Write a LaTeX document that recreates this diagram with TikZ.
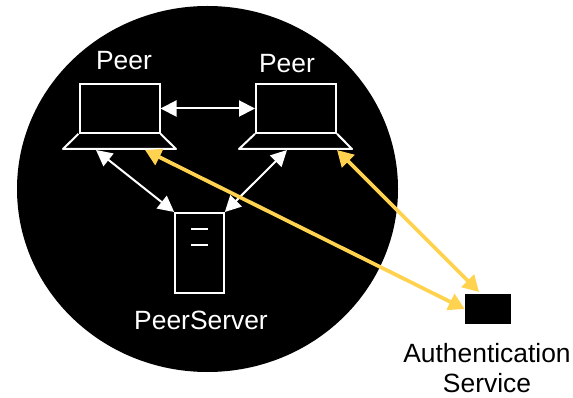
\documentclass[tikz,border=0pt]{standalone}
\usepackage{fontspec}
\setmainfont{Liberation Sans}
\usetikzlibrary{arrows.meta, shapes.geometric}
\definecolor{authyellow}{HTML}{FFD34F}
\tikzset{
    box/.style={draw=white, line width=1.5pt, inner sep=0pt},
    caption/.style={inner sep=0pt, font=\fontsize{19.8}{22.5}\selectfont},
    peerlink/.style={draw=white, line width=1.5pt, arrows={Triangle[length=12pt,width=12pt]-Triangle[length=12pt,width=12pt]}},
    authlink/.style={draw=authyellow, line width=2.8pt, arrows={Triangle[length=12pt,width=13pt]-Triangle[length=12pt,width=13pt]}}
}
\begin{document}
\begin{tikzpicture}[x=0.75pt, y=-0.75pt]
    \useasboundingbox (0,0) rectangle (573,398);
    \node[fill=black, ellipse, minimum width=285.75pt, minimum height=274.5pt, inner sep=0pt] (network) at (207.5,189) {};

    % laptops
    \node[box, minimum width=60pt, minimum height=36.5pt] (screenA) at (119.5,108.5) {};
    \node[box, minimum width=60pt, minimum height=36.5pt] (screenB) at (296,108.5) {};
    \draw[white, line width=1.5pt, line join=round] (screenA.south west) -- (63,149) -- (176,149) -- (screenA.south east);
    \draw[white, line width=1.5pt, line join=round] (screenB.south west) -- (239,149) -- (352,149) -- (screenB.south east);
    \node[caption, white] (peerA) at (124,61) {Peer};
    \node[caption, white] (peerB) at (287,64) {Peer};

    % server
    \node[box, minimum width=36.5pt, minimum height=60pt] (server) at (199.5,253) {};
    \draw[white, line width=1.2pt] (191,229) -- (208,229);
    \draw[white, line width=1.2pt] (191,245) -- (208,245);
    \node[caption, white] (serverlabel) at (201,320) {PeerServer};

    % authentication service
    \node[fill=black, minimum width=34.5pt, minimum height=22.5pt, inner sep=0pt] (auth) at (488,309) {};
    \node[caption, align=center] (authlabel) at (487,368) {Authentication\\Service};

    \coordinate (peerAserver) at (96,150);
    \coordinate (peerAauth) at (145,150);
    \coordinate (peerBserver) at (287,150);
    \coordinate (peerBauth) at (337,150);
    \coordinate (authtop) at (479,292);

    \draw[peerlink] (screenA.east) -- (screenB.west);
    \draw[peerlink] (peerAserver) -- (server.north west);
    \draw[peerlink] (peerBserver) -- (server.north east);
    \draw[authlink] (peerAauth) -- (auth.west);
    \draw[authlink] (peerBauth) -- (authtop);
\end{tikzpicture}
\end{document}
